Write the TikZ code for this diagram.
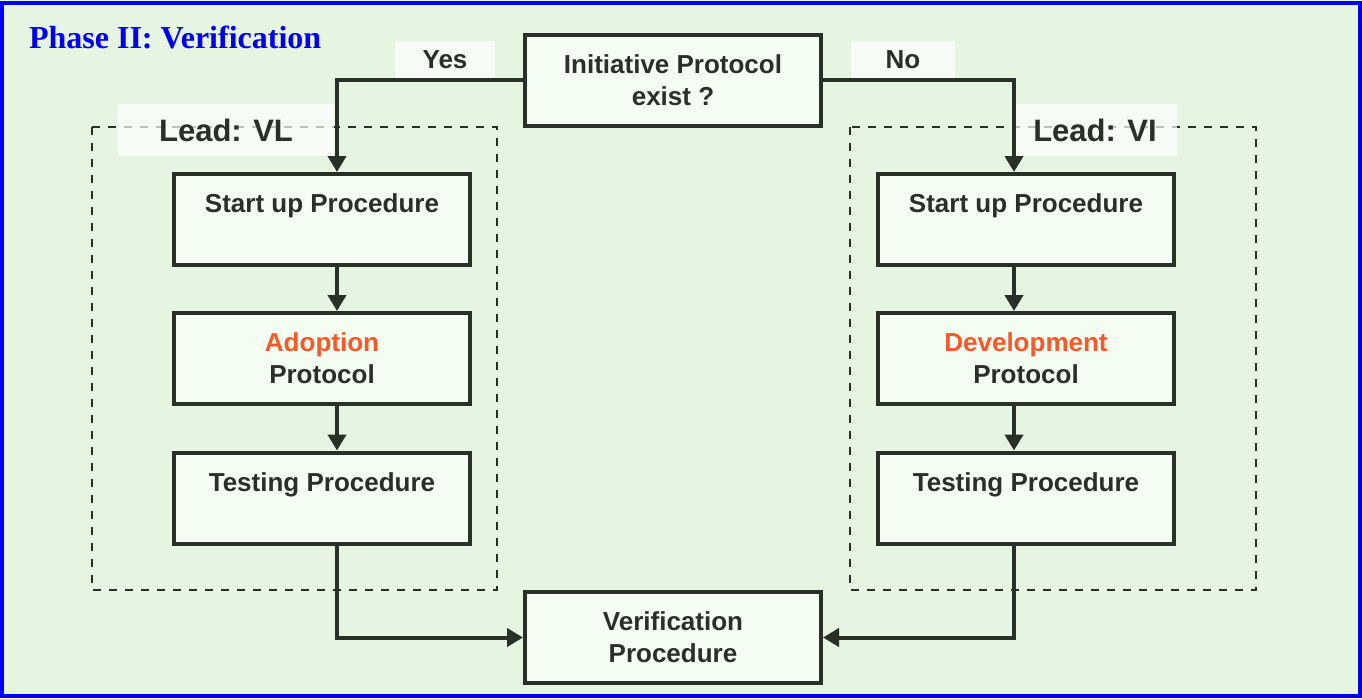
\documentclass[tikz,border=0pt]{standalone}
\usepackage{fontspec}
\setmainfont{Liberation Sans}
\newfontfamily\titlefont{Liberation Serif}
\usepackage{tikz}
\usetikzlibrary{arrows.meta,positioning}
\usepackage{xcolor}
\definecolor{vfgreen}{RGB}{230,244,226}
\definecolor{vfpale}{RGB}{244,253,242}
\definecolor{vfdark}{RGB}{40,48,40}
\definecolor{vforange}{RGB}{250,88,40}
\definecolor{vfblue}{RGB}{0,0,240}
\tikzstyle{arrow} = [line width=2pt,-{Triangle[width=9pt,length=8pt]},color=vfdark]
\tikzstyle{stepbox} = [rectangle, minimum width=148pt, minimum height=45.5pt, align=center, draw=vfdark, fill=vfpale, line width=2pt, text=vfdark, font=\bfseries\fontsize{13}{16}\selectfont]
\tikzstyle{leadbox} = [draw=vfdark, line width=0.8pt, dash pattern=on 4pt off 4pt]
\tikzstyle{patch} = [fill=white, fill opacity=0.7, text opacity=1, text=vfdark, font=\bfseries\fontsize{13}{16}\selectfont]

\begin{document}
\begin{tikzpicture}[x=0.5pt, y=-0.5pt]
% Frame and background
\useasboundingbox (0,0) rectangle (1362,698);
\fill[vfgreen] (0,0) rectangle (1362,698);
\draw[vfblue, line width=2pt] (2,2.5) rectangle (1360,696);

% Title
\node[anchor=west, text=vfblue, font=\titlefont\bfseries\fontsize{16}{19}\selectfont] (title) at (22,37) {Phase II: Verification};

% Lead groups
\draw[leadbox] (92,127) rectangle (497,590);
\draw[leadbox] (850,127) rectangle (1256,590);
\node[patch, minimum width=108pt, minimum height=26pt, font=\bfseries\fontsize{15.5}{18}\selectfont] (leadvl) at (226,130) {Lead: VL};
\node[patch, minimum width=82pt, minimum height=26pt, font=\bfseries\fontsize{15.5}{18}\selectfont] (leadvi) at (1095,130) {Lead: VI};

% Decision
\node[stepbox] (init) at (673,80) {Initiative Protocol\\exist ?};
\node[patch, minimum width=50pt, minimum height=19pt] (yes) at (445,60) {Yes};
\node[patch, minimum width=52pt, minimum height=19pt] (no) at (903,60) {No};

% Left branch
\node[stepbox] (ls) at (322,219.5) {Start up Procedure\\~};
\node[stepbox] (la) at (322,358.5) {\textcolor{vforange}{Adoption}\\Protocol};
\node[stepbox] (lt) at (322,498) {Testing Procedure\\~};

% Right branch
\node[stepbox] (rs) at (1026,219.5) {Start up Procedure\\~};
\node[stepbox] (ra) at (1026,358.5) {\textcolor{vforange}{Development}\\Protocol};
\node[stepbox] (rt) at (1026,498) {Testing Procedure\\~};

% Final step
\node[stepbox] (verif) at (673,637.5) {Verification\\Procedure};

% Connections
\coordinate (lx) at (337,0);
\coordinate (rx) at (1014,0);
\draw[arrow] (init.west) -| (ls.north -| lx);
\draw[arrow] (init.east) -| (rs.north -| rx);
\draw[arrow] (ls.south -| lx) -- (la.north -| lx);
\draw[arrow] (la.south -| lx) -- (lt.north -| lx);
\draw[arrow] (rs.south -| rx) -- (ra.north -| rx);
\draw[arrow] (ra.south -| rx) -- (rt.north -| rx);
\draw[arrow] (lt.south -| lx) |- (verif.west);
\draw[arrow] (rt.south -| rx) |- (verif.east);
\end{tikzpicture}
\end{document}
